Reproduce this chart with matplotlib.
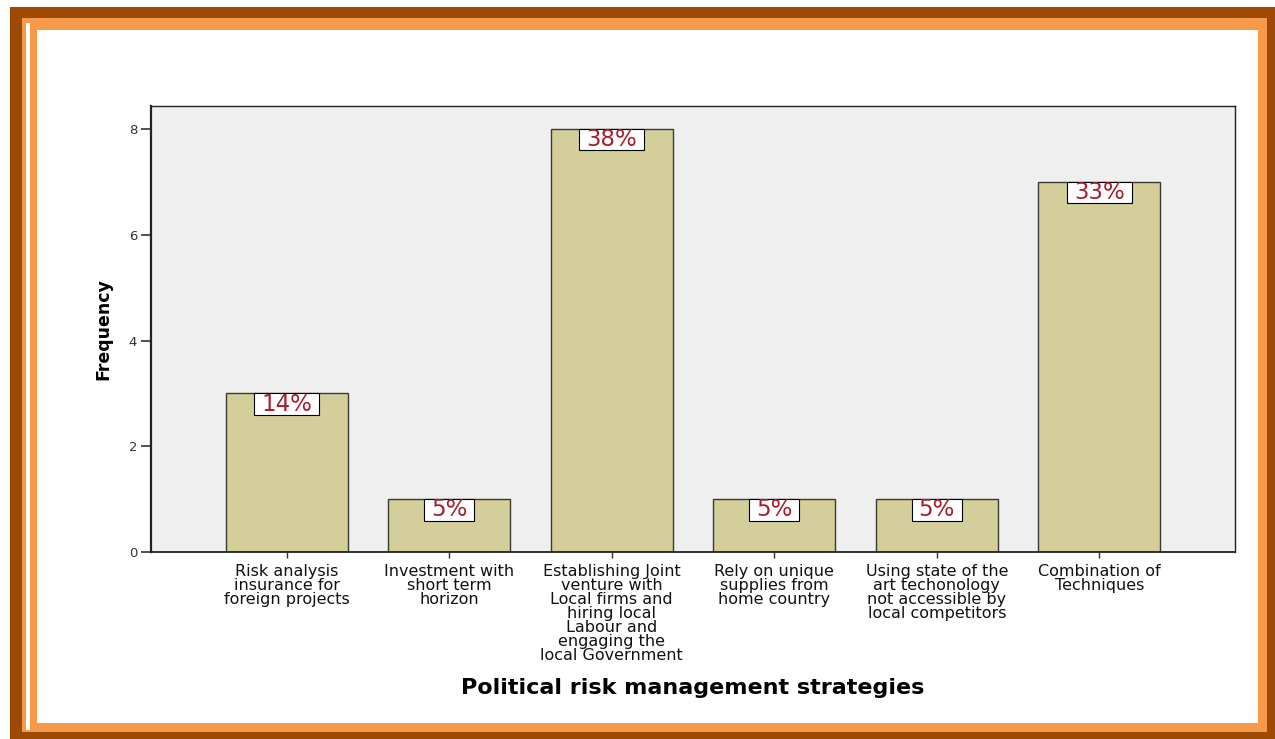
"""Bar chart: political risk management strategies (frequency + percent labels)."""

import matplotlib
matplotlib.use("Agg")
import matplotlib.pyplot as plt
from matplotlib.patches import Rectangle
from matplotlib.path import Path
import numpy as np

categories = [
    "Risk analysis\ninsurance for\nforeign projects",
    "Investment with\nshort term\nhorizon",
    "Establishing Joint\nventure with\nLocal firms and\nhiring local\nLabour and\nengaging the\nlocal Government",
    "Rely on unique\nsupplies from\nhome country",
    "Using state of the\nart techonology\nnot accessible by\nlocal competitors",
    "Combination of\nTechniques",
]
counts = [3, 1, 8, 1, 1, 7]
y_ticks = [0, 2, 4, 6, 8]

W, H = 1275, 739
BROWN = "#9e4a07"
ORANGE = "#f7994a"
BAR_FILL = "#d3ce9a"
PLOT_BG = "#efefef"
LABEL_RED = "#a41f2e"


def px_rect(x0, y0, x1, y1, color):
    """Rectangle in figure fraction from pixel coords (origin top-left)."""
    return Rectangle((x0 / W, 1 - y1 / H), (x1 - x0) / W, (y1 - y0) / H,
                     transform=fig.transFigure, facecolor=color,
                     edgecolor="none", zorder=-10)


def wide_box(x0, y0, width, height, mutation_size, hpad=0.3, vpad=-0.03):
    """Square label box, padded more sideways than vertically (SPSS look)."""
    dx = hpad * mutation_size
    dy = vpad * mutation_size
    x0, x1 = x0 - dx, x0 + width + dx
    y0, y1 = y0 - dy, y0 + height + dy
    return Path([(x0, y0), (x1, y0), (x1, y1), (x0, y1), (x0, y0)],
                closed=True)


fig = plt.figure(figsize=(W / 100, H / 100), dpi=100)
fig.patch.set_facecolor("white")

# picture frame: brown outer, orange inner, thin white gap on the left
fig.patches.append(px_rect(10, 7, W, H, BROWN))
fig.patches.append(px_rect(22, 18, 1267, 732, ORANGE))
fig.patches.append(px_rect(26, 23, 30, 730, "white"))
fig.patches.append(px_rect(37, 30, 1258, 723, "white"))

ax = fig.add_axes([151 / W, 1 - 552 / H, (1235 - 151) / W, (552 - 106) / H])
ax.set_facecolor(PLOT_BG)

x = np.arange(len(categories))
bars = ax.bar(x, counts, width=0.75, color=BAR_FILL, edgecolor="#3a3a30",
              linewidth=1.0, zorder=2)

total = sum(counts)
for xi, c in zip(x, counts):
    ax.annotate(f"{round(100 * c / total)}%", xy=(xi, c), xytext=(0, 0.6),
                textcoords="offset points", ha="center", va="top",
                fontsize=16.5, color=LABEL_RED, zorder=4,
                bbox=dict(boxstyle=wide_box, facecolor="white",
                          edgecolor="black", linewidth=0.8))

ax.set_xlim(-0.835, len(categories) - 1 + 0.835)
ax.set_ylim(0, 8.435)
ax.set_yticks(y_ticks)
ax.set_xticks(x)
ax.set_xticklabels(categories, fontsize=11.5, linespacing=0.92, color="#111")
ax.tick_params(axis="y", direction="out", length=7, width=1.2, pad=3,
               labelsize=9.5, colors="#333")
ax.tick_params(axis="x", direction="out", length=4.5, width=1.0, pad=4,
               colors="#333", labelcolor="#111")

for side in ["top", "right", "bottom", "left"]:
    ax.spines[side].set_color("#222")
    ax.spines[side].set_linewidth(1.0)
ax.spines["left"].set_linewidth(1.6)
ax.spines["bottom"].set_linewidth(1.3)

ax.set_ylabel("Frequency", fontsize=12.5, fontweight="bold")
ax.yaxis.set_label_coords(-0.036, 0.5)
ax.set_xlabel("Political risk management strategies", fontsize=16,
              fontweight="bold")
ax.xaxis.set_label_coords(0.5, -0.283)

fig.savefig("out.png", dpi=100)
